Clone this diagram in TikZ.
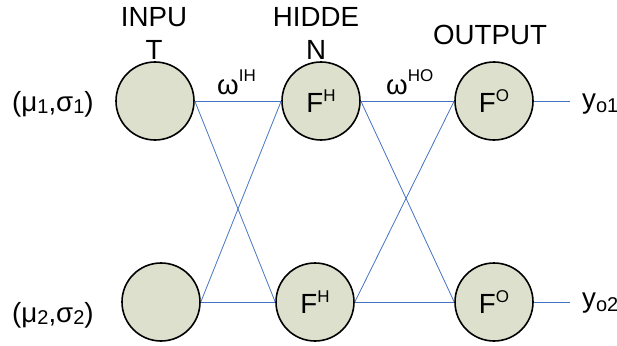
\documentclass[tikz,border=0pt]{standalone}
\usepackage{fontspec}
\setmainfont{Liberation Sans}
\definecolor{nodefill}{RGB}{221,224,204}
\definecolor{linkblue}{RGB}{68,114,196}
\newcommand\mysup[3]{\raisebox{#2pt}{\fontsize{#1}{#1}\selectfont #3}}
\newcommand\mysub[3]{\raisebox{-#2pt}{\fontsize{#1}{#1}\selectfont #3}}
\begin{document}
\begin{tikzpicture}[x=1pt,y=-1pt,
  neuron/.style={circle,draw=black,line width=1.6pt,fill=nodefill,minimum size=78pt,inner sep=0pt,
    font=\fontsize{27.7}{33}\selectfont},
  txt/.style={inner sep=0pt,font=\fontsize{27.7}{33}\selectfont},
  link/.style={draw=linkblue,line width=0.8pt}]
\useasboundingbox (0,0) rectangle (617,345);
% neurons
\node[neuron] (i1) at (155,101) {};
\node[neuron] (i2) at (161,302) {};
\node[neuron] (h1) at (321,101) {F\mysup{17}{11}{H}};
\node[neuron] (h2) at (315,302) {F\mysup{17}{11}{H}};
\node[neuron] (o1) at (494,101) {F\mysup{17}{11}{O}};
\node[neuron] (o2) at (494,302) {F\mysup{17}{11}{O}};
% layer titles
\node[txt,anchor=north,align=center] (tin) at (154,7) {INPU\\T};
\node[txt,anchor=north,align=center] (thid) at (316,7) {HIDDE\\N};
\node[txt,anchor=north] (tout) at (490,25) {OUTPUT};
% connectors
\draw[link] (i1.east) -- (h1.west);
\draw[link] (i1.east) -- (h2.west);
\draw[link] (i2.east) -- (h1.west);
\draw[link] (i2.east) -- (h2.west);
\draw[link] (h1.east) -- (o1.west);
\draw[link] (h1.east) -- (o2.west);
\draw[link] (h2.east) -- (o1.west);
\draw[link] (h2.east) -- (o2.west);
\coordinate (e1) at (570,101);
\coordinate (e2) at (570,302);
\draw[link] (o1.east) -- (e1);
\draw[link] (o2.east) -- (e2);
% weight labels
\node[txt,anchor=base west] (wih) at (217,94) {ω\mysup{17}{13}{IH}};
\node[txt,anchor=base west] (who) at (386,94) {ω\mysup{17}{13}{HO}};
% input labels
\node[txt,anchor=base west] (x1) at (12,111) {(μ\mysub{20}{2}{1},σ\mysub{20}{2}{1})};
\node[txt,anchor=base west] (x2) at (12,322) {(μ\mysub{20}{2}{2},σ\mysub{20}{2}{2})};
% output labels
\node[txt,anchor=base west] (y1) at (582,108) {y\mysub{20}{4}{o1}};
\node[txt,anchor=base west] (y2) at (582,307) {y\mysub{20}{4}{o2}};
\end{tikzpicture}
\end{document}
